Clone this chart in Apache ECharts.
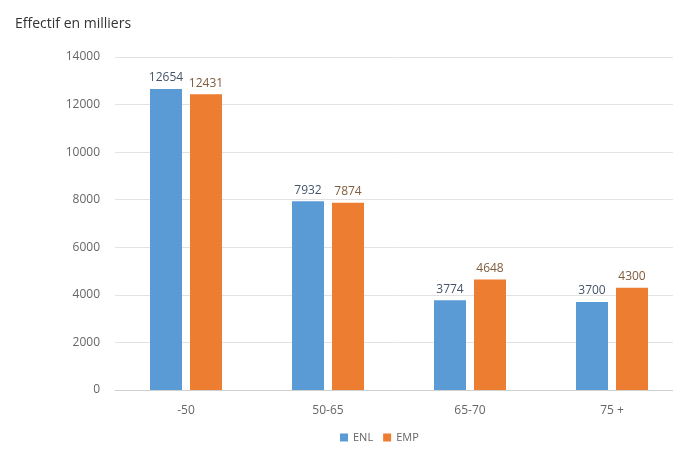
<!DOCTYPE html>
<html>
<head>
<meta charset="utf-8">
<script src="https://cdn.jsdelivr.net/npm/echarts@6/dist/echarts.min.js"></script>
<style>
  html, body { margin: 0; padding: 0; background: #fff; overflow: hidden; }
  #chart { width: 673px; height: 450px; }
</style>
</head>
<body>
<div id="chart"></div>
<script>
const categories = ['-50', '50-65', '65-70', '75 +']
const enl = [12654, 7932, 3774, 3700]
const emp = [12431, 7874, 4648, 4300]

const font = '"Open Sans", sans-serif'

const chart = echarts.init(document.getElementById('chart'))
chart.setOption({
  animation: false,
  title: {
    text: 'Effectif en milliers',
    left: 10,
    top: 12,
    textStyle: { fontSize: 14, fontWeight: 'normal', color: '#333', fontFamily: font }
  },
  legend: {
    bottom: 2,
    left: 335,
    itemWidth: 8,
    itemHeight: 8,
    itemGap: 10,
    icon: 'rect',
    textStyle: { fontSize: 11, color: '#666', fontFamily: font },
    data: ['ENL', 'EMP']
  },
  // plot area runs past the right edge of the picture, as in the cropped original
  grid: { left: 115, width: 568, top: 57, bottom: 60, outerBoundsMode: 'none' },
  xAxis: {
    type: 'category',
    data: categories,
    axisTick: { show: false },
    axisLine: { lineStyle: { color: '#d0d0d0' } },
    axisLabel: { color: '#666', fontSize: 12, margin: 15, fontFamily: font }
  },
  yAxis: {
    type: 'value',
    min: 0,
    max: 14000,
    interval: 2000,
    axisLabel: {
      color: '#666', fontSize: 12, margin: 15, fontFamily: font,
      formatter: v => String(v)
    },
    splitLine: { lineStyle: { color: '#e3e3e3' } }
  },
  series: [
    {
      name: 'ENL',
      type: 'bar',
      data: enl,
      barWidth: 32,
      barGap: '25%',
      itemStyle: { color: '#5b9bd5' },
      label: { show: true, position: 'top', color: '#44546a', fontSize: 12, fontFamily: font }
    },
    {
      name: 'EMP',
      type: 'bar',
      data: emp,
      barWidth: 32,
      barGap: '25%',
      itemStyle: { color: '#ed7d31' },
      label: { show: true, position: 'top', color: '#7f5c3c', fontSize: 12, fontFamily: font }
    }
  ]
})
</script>
</body>
</html>
